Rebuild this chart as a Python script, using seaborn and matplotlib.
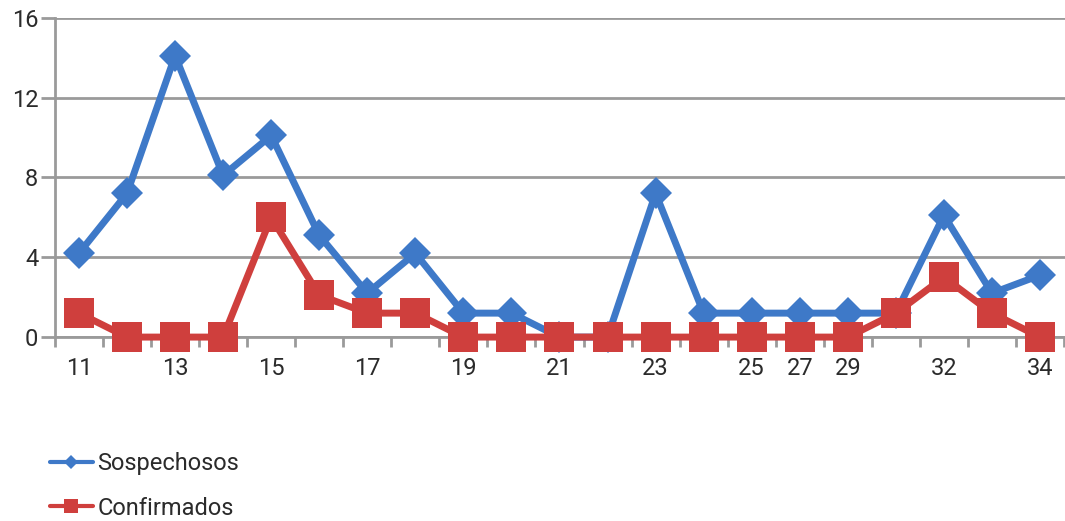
import matplotlib
matplotlib.use("Agg")
import matplotlib.pyplot as plt
import numpy as np
import pandas as pd
import seaborn as sns

# Epidemiological weeks shown on the category axis
weeks = ["11", "12", "13", "14", "15", "16", "17", "18", "19", "20", "21",
         "22", "23", "24", "25", "27", "29", "31", "32", "33", "34"]
# Week labels that are printed under the axis
shown_labels = ["11", "13", "15", "17", "19", "21", "23", "25", "27", "29", "32", "34"]

sospechosos = [4.2, 7.2, 14.1, 8.1, 10.1, 5.1, 2.2, 4.2, 1.2, 1.2, 0.0,
               0.0, 7.2, 1.2, 1.2, 1.2, 1.2, 1.2, 6.1, 2.2, 3.1]
confirmados = [1.2, 0.0, 0.0, 0.0, 6.0, 2.1, 1.2, 1.2, 0.0, 0.0, 0.0,
               0.0, 0.0, 0.0, 0.0, 0.0, 0.0, 1.2, 3.0, 1.2, 0.0]

series_names = ["Sospechosos", "Confirmados"]
y_ticks = [0, 4, 8, 12, 16]

BLUE = "#3e79c8"
RED = "#cf3f3d"
GRID = "#9a9a9a"
TEXT = "#2b2b2b"

df = pd.DataFrame({
    "Semana": weeks * 2,
    "Casos": sospechosos + confirmados,
    "Serie": [series_names[0]] * len(weeks) + [series_names[1]] * len(weeks),
})

sns.set_theme(style="white")
plt.rcParams["font.family"] = ["Roboto", "DejaVu Sans"]

fig = plt.figure(figsize=(10.65, 5.21), dpi=100)
ax = fig.add_axes([0.0516, 0.353, 0.9484, 0.613])

sns.lineplot(
    data=df, x="Semana", y="Casos", hue="Serie", style="Serie",
    hue_order=series_names, style_order=series_names,
    palette=[BLUE, RED], markers={"Sospechosos": "D", "Confirmados": "s"},
    dashes=False, sort=False, linewidth=5, markersize=21,
    markeredgewidth=0, legend=False, ax=ax,
)
ax.lines[0].set_markersize(16)
ax.lines[1].set_zorder(3)
for line in ax.lines:
    line.set_clip_on(False)

n = len(weeks)
ax.set_xlim(-0.5, n - 0.48)
ax.set_ylim(0, 16)
ax.set_xlabel("")
ax.set_ylabel("")

# Category labels under selected weeks, tick marks on category boundaries
ax.set_xticks(range(n))
ax.set_xticklabels([w if w in shown_labels else "" for w in weeks])
ax.set_xticks(np.arange(-0.5, n, 1.0), minor=True)
ax.tick_params(axis="x", which="major", length=0, pad=14, labelsize=17,
               labelcolor=TEXT, bottom=True)
ax.tick_params(axis="x", which="minor", length=7, width=2, color=GRID,
               direction="out", bottom=True)

ax.set_yticks(y_ticks)
ax.tick_params(axis="y", length=10, width=2, color=GRID, labelsize=17,
               labelcolor=TEXT, pad=2, direction="out", left=True)
ax.yaxis.grid(True, color=GRID, linewidth=2)
ax.xaxis.grid(False)
ax.set_axisbelow(True)

for side in ["top", "right"]:
    ax.spines[side].set_visible(False)
for side in ["left", "bottom"]:
    ax.spines[side].set_color(GRID)
    ax.spines[side].set_linewidth(2)

# Legend below the plot, one entry per row
leg = fig.legend(
    handles=ax.lines[:2], labels=series_names, loc="upper left",
    bbox_to_anchor=(50 / 1065, 1 - 452 / 521), frameon=False,
    fontsize=17, handlelength=1.8, handletextpad=0.2, labelspacing=0.92,
    borderpad=0, borderaxespad=0,
)
for txt in leg.get_texts():
    txt.set_color(TEXT)
for h, ms in zip(leg.legend_handles, [7, 10]):
    h.set_linewidth(3)
    h.set_markersize(ms)

fig.savefig("out.png", dpi=100)
